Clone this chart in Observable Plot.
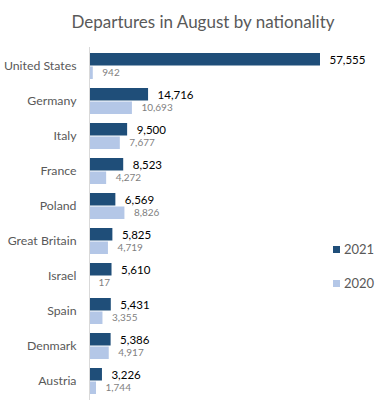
<!DOCTYPE html>
<html><head><meta charset="utf-8">
<script src="https://cdn.jsdelivr.net/npm/d3@7"></script>
<script src="https://cdn.jsdelivr.net/npm/@observablehq/plot@0.6"></script>
<style>
body{margin:0;background:#fff;font-family:Lato, sans-serif;}
#wrap{position:relative;width:388px;height:405px;}
#title{height:45px;line-height:43px;text-align:center;padding-left:18px;box-sizing:border-box;font-size:17px;color:#595959;}
#chart svg{display:block;}
.leg{position:absolute;left:333px;font-size:13px;color:#595959;display:flex;align-items:center;height:16px;}
.leg span{display:inline-block;width:7px;height:7px;margin-right:4px;}
</style></head><body>
<div id="wrap"><div id="title">Departures in August by nationality</div><div id="chart"></div></div>
<script>
const countries = ["United States","Germany","Italy","France","Poland","Great Britain","Israel","Spain","Denmark","Austria"];
const v2021 = [57555,14716,9500,8523,6569,5825,5610,5431,5386,3226];
const v2020 = [942,10693,7677,4272,8826,4719,17,3355,4917,1744];
const years = ["2021","2020"];
const colors = ["#1f4e79","#b4c7e7"];

const d21 = countries.map((c,i)=>({country:c, value:v2021[i]}));
const d20 = countries.map((c,i)=>({country:c, value:v2020[i]}));
const fmt = d3.format(",");

const plot = Plot.plot({
  width: 388, height: 357,
  marginLeft: 89, marginRight: 0, marginTop: 2, marginBottom: 2,
  style: {fontFamily: "Lato, sans-serif", color: "#595959", background: "transparent"},
  x: {domain: [0, 74500], axis: null},
  y: {domain: countries, paddingInner: 0.26, paddingOuter: 0.13, label: null},
  marks: [
    Plot.barX(d21, {x: "value", y: "country", fill: colors[0], insetBottom: 13.5}),
    Plot.barX(d20, {x: "value", y: "country", fill: colors[1], insetTop: 13.5}),
    Plot.ruleX([0], {stroke: "#d9d9d9"}),
    Plot.text(d21, {x: "value", y: "country", text: d => fmt(d.value), dy: -6.5, dx: 9, textAnchor: "start", fill: "#000", fontSize: 11.5}),
    Plot.text(d20, {x: "value", y: "country", text: d => fmt(d.value), dy: 6.5, dx: 9, textAnchor: "start", fill: "#7f7f7f", fontSize: 10}),
    Plot.axisY({tickSize: 0, tickPadding: 13, fontSize: 12.3, label: null})
  ]
});
document.getElementById("chart").appendChild(plot);

const wrap = document.getElementById("wrap");
const legTops = [241, 275];
years.forEach((y,i)=>{
  const d = document.createElement("div");
  d.className = "leg";
  d.style.top = legTops[i] + "px";
  d.innerHTML = `<span style="background:${colors[i]}"></span>${y}`;
  wrap.appendChild(d);
});
</script>
</body></html>
